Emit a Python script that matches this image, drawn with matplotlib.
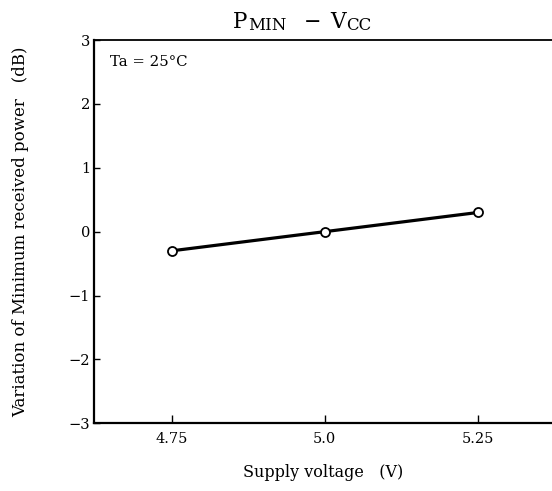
import matplotlib
matplotlib.use("Agg")
import matplotlib.pyplot as plt

supply_voltage = [4.75, 5.0, 5.25]
variation_db = [-0.3, 0.0, 0.3]
x_ticks = [4.75, 5.0, 5.25]
x_tick_labels = ["4.75", "5.0", "5.25"]
y_ticks = [-3, -2, -1, 0, 1, 2, 3]
y_tick_labels = ["\u22123", "\u22122", "\u22121", "0", "1", "2", "3"]

plt.rcParams['font.family'] = ['DejaVu Serif']

W, H = 552, 491
fig = plt.figure(figsize=(W / 100, H / 100), dpi=100)
ax = fig.add_axes([94.3 / W, 1 - 423.3 / H, (552 - 94.3) / W, (423.3 - 40) / H])

ax.plot(supply_voltage, variation_db, color='black', lw=2.3, marker='o',
        markersize=6.5, markerfacecolor='white', markeredgecolor='black',
        markeredgewidth=1.3, zorder=3)

ax.set_xlim(4.6235, 5.371)
ax.set_ylim(-3, 3)
ax.set_xticks(x_ticks)
ax.set_xticklabels(x_tick_labels, fontsize=10.5)
ax.set_yticks(y_ticks)
ax.set_yticklabels(y_tick_labels, fontsize=10.5)
ax.tick_params(axis='x', direction='in', length=6, width=1.0, pad=6)
ax.tick_params(axis='y', direction='in', length=4.5, width=1.0, pad=3)

for s in ['left', 'bottom']:
    ax.spines[s].set_linewidth(1.6)
ax.spines['top'].set_linewidth(1.3)
ax.spines['right'].set_visible(False)

ax.set_xlabel("Supply voltage   (V)", fontsize=11.5, labelpad=13)
ax.set_ylabel("Variation of Minimum received power   (dB)", fontsize=12, labelpad=28)

fig.text(110 / W, 1 - 62 / H, "Ta = 25\u00b0C", fontsize=10.7, va='center', ha='left')

# Title pieces, chained left to right
fig.canvas.draw()
renderer = fig.canvas.get_renderer()
pieces = [("P", 15.5, 28, 0), ("MIN", 12, 29.5, 1), ("\u2212", 15, 28, 17),
          ("V", 15.5, 28, 9), ("CC", 12, 29.5, 0)]
xpos = 233
for s, size, yb, gap in pieces:
    xpos += gap
    t = fig.text(xpos / W, 1 - yb / H, s, fontsize=size, ha='left', va='baseline')
    bb = t.get_window_extent(renderer)
    xpos += bb.width

fig.savefig("out.png", dpi=100)
